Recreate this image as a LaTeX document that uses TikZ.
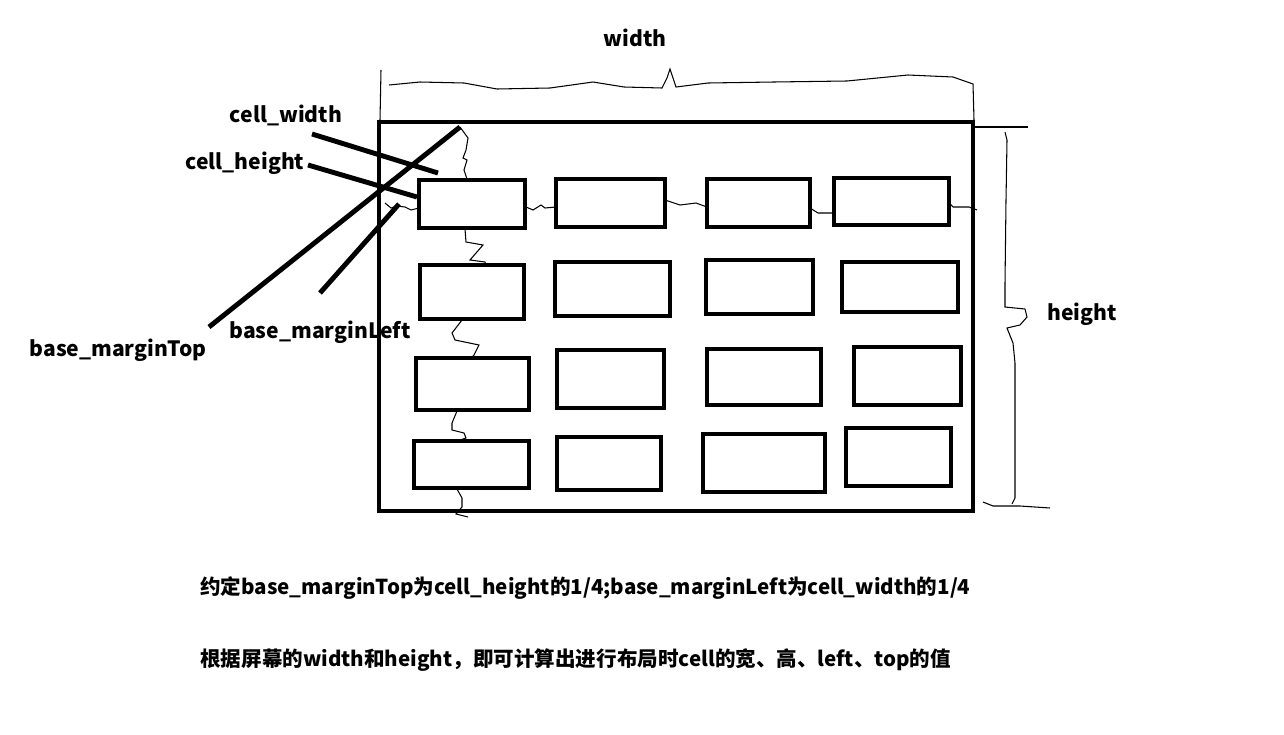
\documentclass[tikz,border=0pt]{standalone}
\usepackage{fontspec}
\setmainfont{Noto Sans CJK SC}
\tikzset{
  frame/.style={draw,line width=2.3pt},
  cellbox/.style={draw,line width=2.6pt,inner sep=0pt},
  pointer/.style={line width=2.8pt},
  sketch/.style={line width=0.6pt},
  lbl/.style={font=\fontsize{12}{14}\selectfont\bfseries,inner sep=0pt},
  note/.style={font=\fontsize{11.7}{14}\selectfont\bfseries,inner sep=0pt,anchor=west}
}
\begin{document}
\begin{tikzpicture}[x=0.02cm,y=-0.02cm]
	\useasboundingbox (0,0) rectangle (1284,734);
	% Place labels
	\node [lbl] (w) at (635,38) {width};
	\node [lbl] (h) at (1082,314) {height};
	\node [lbl] (cw) at (286,115) {cell\_width};
	\node [lbl] (ch) at (245,163) {cell\_height};
	\node [lbl] (bmt) at (118,350) {base\_marginTop};
	\node [lbl] (bml) at (320,332) {base\_marginLeft};
	\node [note] (note1) at (200,588) {约定base\_marginTop为cell\_height的1/4;base\_marginLeft为cell\_width的1/4};
	\node [note] (note2) at (200,660) {根据屏幕的width和height，即可计算出进行布局时cell的宽、高、left、top的值};

	% Screen frame
	\node [frame,inner sep=0pt,minimum width=11.88cm,minimum height=7.78cm] (screen) at (676,316.5) {};

	% Cells
	\foreach \n/\xa/\ya/\xb/\yb in {
		c11/419/180/525/228, c12/556/179/665/227, c13/707/179/810/227, c14/834/178/949/225,
		c21/420/265/524/319, c22/555/262/670/316, c23/706/260/813/314, c24/842/262/958/312,
		c31/416/358/529/410, c32/557/350/664/408, c33/707/349/821/405, c34/854/347/961/405,
		c41/414/441/529/488, c42/557/437/661/490, c43/703/434/825/492, c44/846/428/951/486}
		\node [cellbox,minimum width={(\xb-\xa)*0.02cm},minimum height={(\yb-\ya)*0.02cm}] (\n) at ({(\xa+\xb)/2},{(\ya+\yb)/2}) {};

	% Pointer lines
	\coordinate (cwa) at (312,134);
	\coordinate (cwb) at (438,173);
	\coordinate (cha) at (308,165);
	\coordinate (chb) at (417,197);
	\coordinate (bmta) at (209,327);
	\coordinate (bmtb) at (460,127);
	\coordinate (bmla) at (320,293);
	\coordinate (bmlb) at (399,204);
	\draw [pointer] (cwa) -- (cwb);
	\draw [pointer] (cha) -- (chb);
	\draw [pointer] (bmta) -- (bmtb);
	\draw [pointer] (bmla) -- (bmlb);

	% Width brace
	\draw [sketch] (380,120) -- (381,70);
	\draw [sketch] (389,85) -- (420,82) -- (464,83) -- (497,89) -- (550,88) -- (593,82) -- (624,87) -- (662,88)
		-- (667,78) -- (670,69) -- (673,78) -- (676,87) -- (708,83) -- (774,82) -- (847,81) -- (908,75) -- (953,77) -- (973,84) -- (974,120);

	% Height brace
	\draw [sketch] (975,127) -- (1028,127);
	\draw [sketch] (1005,132) -- (1007,140) -- (1006,200) -- (1005,283) -- (1005,307) -- (1025,309) -- (1027,317)
		-- (1020,325) -- (1007,328) -- (1013,343) -- (1015,363) -- (1015,498) -- (1012,504);
	\draw [sketch] (983,502) -- (993,506) -- (1020,506) -- (1050,508);

	% Margin marks
	\draw [sketch] (460,127) -- (468,138) -- (466,150) -- (463,158) -- (467,160) -- (464,170) -- (467,179);
	\draw [sketch] (465,229) -- (466,242) -- (483,245) -- (470,260) -- (485,262) -- (486,265);
	\draw [sketch] (462,320) -- (452,333) -- (455,340) -- (479,345) -- (474,355) -- (471,358);
	\draw [sketch] (457,411) -- (452,423) -- (452,430) -- (464,433) -- (466,438) -- (457,441);
	\draw [sketch] (457,489) -- (462,498) -- (462,507) -- (456,514) -- (468,517);
	\draw [sketch] (385,203) -- (391,208) -- (397,206) -- (405,207) -- (411,210) -- (419,208);
	\draw [sketch] (526,207) -- (533,210) -- (541,205) -- (545,208) -- (556,207);
	\draw [sketch] (665,200) -- (680,205) -- (696,203) -- (707,207);
	\draw [sketch] (810,208) -- (818,213) -- (834,213);
	\draw [sketch] (949,203) -- (953,207) -- (969,207) -- (977,210);
\end{tikzpicture}
\end{document}
